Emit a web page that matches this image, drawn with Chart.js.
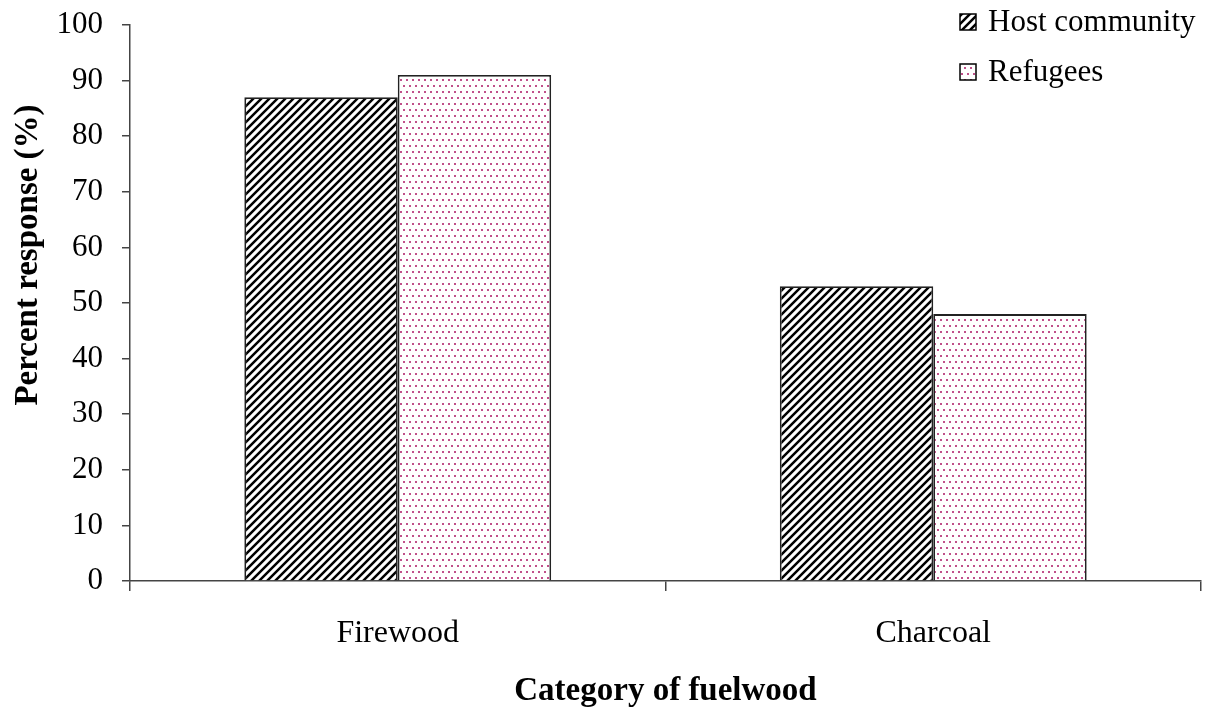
<!DOCTYPE html>
<html>
<head>
<meta charset="utf-8">
<script src="https://cdn.jsdelivr.net/npm/chart.js@4.4.1/dist/chart.umd.min.js"></script>
<style>
  html, body { margin: 0; padding: 0; background: #ffffff; }
  #wrap { width: 1206px; height: 711px; }
</style>
</head>
<body>
<div id="wrap"><canvas id="chart" width="1206" height="711"></canvas></div>
<script>
// Fuelwood categories and share of respondents using each (%)
const categories = ['Firewood', 'Charcoal'];
const hostCommunity = [87, 53];
const refugees = [91, 48];
const seriesNames = ['Host community', 'Refugees'];
const yMin = 0;
const yMax = 100;
const yStep = 10;

const SERIF = '"Liberation Serif", "Times New Roman", serif';

// Diagonal black hatching (///)
function hatchPattern() {
  const c = document.createElement('canvas');
  c.width = 8; c.height = 8;
  const g = c.getContext('2d');
  g.fillStyle = '#ffffff';
  g.fillRect(0, 0, 8, 8);
  g.strokeStyle = '#000000';
  g.lineWidth = 2.5;
  g.beginPath();
  g.moveTo(-2, 10); g.lineTo(10, -2);
  g.moveTo(-6, 6); g.lineTo(6, -6);
  g.moveTo(2, 14); g.lineTo(14, 2);
  g.stroke();
  return g.createPattern(c, 'repeat');
}

// Fine pink dot screen (staggered rows)
function dotPattern() {
  const c = document.createElement('canvas');
  c.width = 12; c.height = 12;
  const g = c.getContext('2d');
  g.fillStyle = '#ffffff';
  g.fillRect(0, 0, 12, 12);
  g.fillStyle = '#c0508a';
  [[1, 1], [7, 1], [4, 7], [10, 7]].forEach(([x, y]) => g.fillRect(x, y, 2, 2));
  return g.createPattern(c, 'repeat');
}

const hatch = hatchPattern();
const dots = dotPattern();

// Legend drawn in the upper-right corner of the plot
const cornerLegend = {
  id: 'cornerLegend',
  afterDraw(chart) {
    const ctx = chart.ctx;
    const items = chart.data.datasets;
    const boxX = 960, textX = 988;
    const rows = [22, 72];
    ctx.save();
    items.forEach((ds, i) => {
      const cy = rows[i];
      ctx.fillStyle = ds.backgroundColor;
      ctx.fillRect(boxX, cy - 8, 16, 16);
      ctx.strokeStyle = '#000000';
      ctx.lineWidth = 1.5;
      ctx.strokeRect(boxX, cy - 8, 16, 16);
      ctx.fillStyle = '#000000';
      ctx.font = '31px ' + SERIF;
      ctx.textAlign = 'left';
      ctx.textBaseline = 'middle';
      ctx.fillText(ds.label, textX, cy + 1);
    });
    ctx.restore();
  }
};

// Vertical axis title
const yTitle = {
  id: 'yTitle',
  afterDraw(chart) {
    const ctx = chart.ctx;
    ctx.save();
    ctx.translate(28, 255);
    ctx.rotate(-Math.PI / 2);
    ctx.fillStyle = '#000000';
    ctx.font = 'bold 33px ' + SERIF;
    ctx.textAlign = 'center';
    ctx.textBaseline = 'middle';
    ctx.fillText('Percent response (%)', 0, 0);
    ctx.restore();
  }
};

new Chart(document.getElementById('chart'), {
  type: 'bar',
  data: {
    labels: categories,
    datasets: [
      {
        label: seriesNames[0],
        data: hostCommunity,
        backgroundColor: hatch,
        borderColor: '#222222',
        borderWidth: 1.8,
        borderSkipped: 'bottom'
      },
      {
        label: seriesNames[1],
        data: refugees,
        backgroundColor: dots,
        borderColor: '#222222',
        borderWidth: 1.8,
        borderSkipped: 'bottom'
      }
    ]
  },
  options: {
    responsive: false,
    animation: false,
    devicePixelRatio: 1,
    layout: { padding: { top: 25, right: 5, left: 0, bottom: 0 } },
    datasets: {
      bar: { categoryPercentage: 0.573, barPercentage: 1.0 }
    },
    plugins: {
      legend: { display: false },
      tooltip: { enabled: false },
      title: { display: false }
    },
    scales: {
      x: {
        offset: true,
        grid: {
          offset: true,
          drawOnChartArea: false,
          drawTicks: true,
          tickLength: 10,
          color: '#444444',
          lineWidth: 1.5
        },
        border: { display: true, color: '#444444', width: 1.5 },
        ticks: {
          color: '#000000',
          font: { family: SERIF, size: 32 },
          padding: 23
        },
        title: {
          display: true,
          text: 'Category of fuelwood',
          color: '#000000',
          font: { family: SERIF, size: 33, weight: 'bold' },
          padding: { top: 0, bottom: 0 }
        },
        afterFit(scale) {
          scale.height = 130;
          scale.paddingLeft = 0;
          scale.paddingRight = 0;
        }
      },
      y: {
        min: yMin,
        max: yMax,
        grid: {
          drawOnChartArea: false,
          drawTicks: true,
          tickLength: 8,
          color: '#444444',
          lineWidth: 1.5
        },
        border: { display: true, color: '#444444', width: 1.5 },
        ticks: {
          stepSize: yStep,
          color: '#000000',
          font: { family: SERIF, size: 31 },
          padding: 19
        },
        afterFit(scale) {
          scale.width = 130;
          scale.paddingTop = 0;
          scale.paddingBottom = 0;
        }
      }
    }
  },
  plugins: [cornerLegend, yTitle]
});
</script>
</body>
</html>
